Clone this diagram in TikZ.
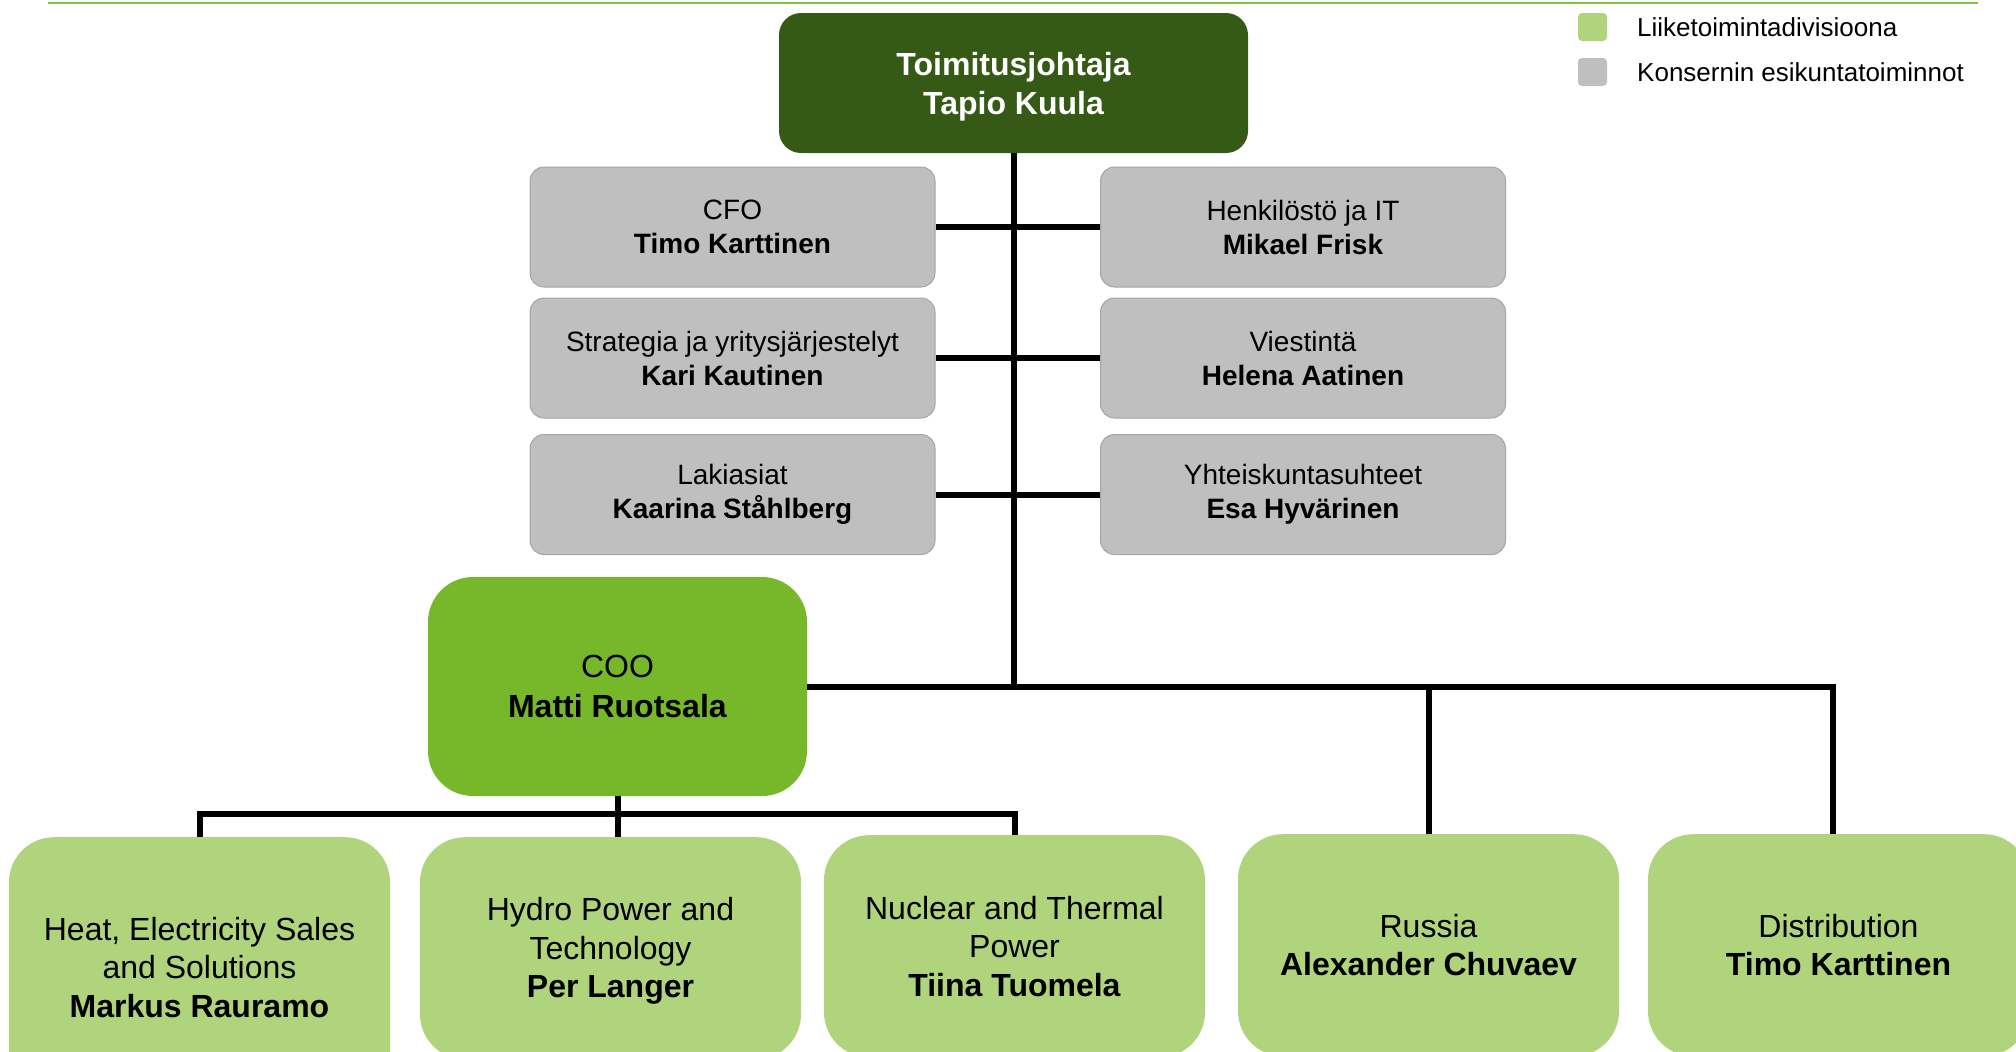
\documentclass[tikz,border=0pt]{standalone}
\usepackage{fontspec}
\setmainfont{Liberation Sans}
\usetikzlibrary{positioning}
\definecolor{ceogreen}{HTML}{345A16}
\definecolor{coogreen}{HTML}{77B82B}
\definecolor{divgreen}{HTML}{AFD47B}
\definecolor{staffgray}{HTML}{BFBFBF}
\definecolor{staffline}{HTML}{A5A5A5}
\definecolor{rulegreen}{HTML}{80C342}

\begin{document}
\begin{tikzpicture}
  [x=1pt,y=-1pt,
   every node/.style={align=center,inner sep=0pt},
   ceobox/.style={fill=ceogreen,text=white,rounded corners=22pt,
     minimum width=469pt,minimum height=140pt,font=\fontsize{32}{39}\selectfont\bfseries},
   staffbox/.style={fill=staffgray,draw=staffline,line width=1pt,rounded corners=14pt,
     minimum width=405pt,minimum height=120pt,font=\fontsize{28}{34}\selectfont},
   coobox/.style={fill=coogreen,rounded corners=45pt,
     minimum width=379pt,minimum height=219pt,font=\fontsize{32}{40}\selectfont},
   divbox/.style={fill=divgreen,rounded corners=45pt,anchor=north,
     minimum width=381pt,minimum height=222pt,font=\fontsize{32}{38.5}\selectfont},
   legendkey/.style={rounded corners=4pt,minimum width=29pt,minimum height=28pt},
   legendtext/.style={anchor=west,font=\fontsize{26}{30}\selectfont},
   link/.style={draw,line width=6pt}]
  \path[use as bounding box,clip] (0,0) rectangle (2016,1052);
  \draw[rulegreen,line width=2pt] (48,3) -- (1978,3);

  \node[legendkey,fill=divgreen] (keydiv) at (1592.5,27) {};
  \node[legendkey,fill=staffgray] (keystaff) at (1592.5,72) {};
  \node[legendtext] (textdiv) at (1637,27) {Liiketoimintadivisioona};
  \node[legendtext] (textstaff) at (1637,72) {Konsernin esikuntatoiminnot};

  \node[ceobox] (ceo) at (1013.5,83) {\rule{0pt}{31pt}Toimitusjohtaja\\Tapio Kuula};

  \node[staffbox] (cfo) at (732.5,227) {CFO\\\textbf{Timo Karttinen}};
  \node[staffbox] (strategy) at (732.5,358) {Strategia ja yritysjärjestelyt\\\textbf{Kari Kautinen}};
  \node[staffbox] (legal) at (732.5,494.5) {Lakiasiat\\\textbf{Kaarina Ståhlberg}};
  \node[staffbox] (hr) at (1303,227) {Henkilöstö ja IT\\\textbf{Mikael Frisk}};
  \node[staffbox] (comms) at (1303,358) {Viestintä\\\textbf{Helena Aatinen}};
  \node[staffbox] (public) at (1303,494.5) {Yhteiskuntasuhteet\\\textbf{Esa Hyvärinen}};

  \node[coobox] (coo) at (617.5,686.5) {COO\\\textbf{Matti Ruotsala}};

  \node[divbox,minimum height=260pt] (heat) at (199.5,837) {Heat, Electricity Sales\\and Solutions\\\textbf{Markus Rauramo}};
  \node[divbox] (hydro) at (610.5,837) {\rule{0pt}{29pt}Hydro Power and\\Technology\\\textbf{Per Langer}};
  \node[divbox] (nuclear) at (1014.5,835) {Nuclear and Thermal\\Power\\\textbf{Tiina Tuomela}};
  \node[divbox] (russia) at (1428.5,834) {Russia\\\textbf{Alexander Chuvaev}};
  \node[divbox] (dist) at (1838.5,834) {Distribution\\\textbf{Timo Karttinen}};

  \coordinate (bus) at (618,814);

  \draw[link] (ceo.south) -- (ceo.south |- coo.east);
  \draw[link] (cfo.east) -- (hr.west);
  \draw[link] (strategy.east) -- (comms.west);
  \draw[link] (legal.east) -- (public.west);
  \draw[link] (coo.east) -| ([xshift=-5.5pt]dist.north);
  \draw[link] (russia.north) -- (russia.north |- coo.east);
  \draw[link] (coo.south) -- (coo.south |- hydro.north);
  \draw[link] (heat.north) -- (heat.north |- bus) -- (nuclear.north |- bus) -- (nuclear.north);
\end{tikzpicture}
\end{document}
